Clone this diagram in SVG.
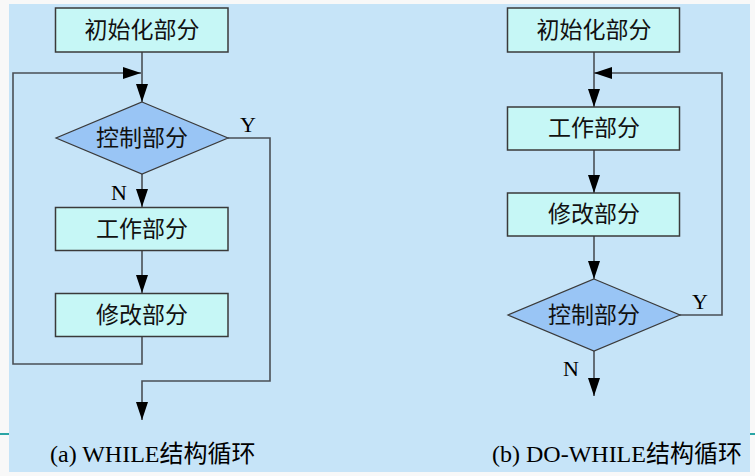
<svg xmlns="http://www.w3.org/2000/svg" width="755" height="476" viewBox="0 0 755 476">
<defs>
<marker id="ah" markerUnits="userSpaceOnUse" markerWidth="20" markerHeight="14" refX="18" refY="6" orient="auto">
<path d="M0,0 L18,6 L0,12 Z" fill="#000"/>
</marker>
<style>
.box{fill:#c6f7f6;stroke:#3a3a3a;stroke-width:1.5}
.dia{fill:#99c5f5;stroke:#3a3a3a;stroke-width:1.2}
.ln{fill:none;stroke:#4a4f55;stroke-width:1.6}
.t{font-family:"Liberation Serif","Noto Sans CJK SC",serif;font-size:23px;fill:#111;text-anchor:middle}
.lb{font-family:"Liberation Serif","Noto Sans CJK SC",serif;font-size:22px;fill:#000;text-anchor:middle}
.cap{font-family:"Liberation Serif","Noto Sans CJK SC",serif;font-size:24px;fill:#000}
</style>
</defs>
<rect x="0" y="0" width="755" height="476" fill="#f8f8f8"/>
<rect x="9" y="4" width="741" height="468" fill="#c6e4f8"/>
<line x1="0" y1="434" x2="9" y2="434" stroke="#2aa5a5" stroke-width="2"/>
<line x1="750" y1="434" x2="755" y2="434" stroke="#2aa5a5" stroke-width="2"/>

<g id="connectors">
<path class="ln" d="M142,52 V102" marker-end="url(#ah)"/>
<path class="ln" d="M142,337 V364 H13 V73 H141" marker-end="url(#ah)"/>
<path class="ln" d="M142,174 V207" marker-end="url(#ah)"/>
<path class="ln" d="M142,251 V293" marker-end="url(#ah)"/>
<path class="ln" d="M228,138 H270 V381 H142 V420" marker-end="url(#ah)"/>
<path class="ln" d="M594,52 V107" marker-end="url(#ah)"/>
<path class="ln" d="M594,150 V193" marker-end="url(#ah)"/>
<path class="ln" d="M594,236 V279" marker-end="url(#ah)"/>
<path class="ln" d="M679,315 H722 V73 H594" marker-end="url(#ah)"/>
<path class="ln" d="M594,351 V396" marker-end="url(#ah)"/>
</g>

<g id="a-init"><rect class="box" x="55.5" y="8" width="172.5" height="44"/><text class="t" x="142" y="38">初始化部分</text></g>
<g id="a-ctrl"><polygon class="dia" points="142,102 228,138 142,174 56,138"/><text class="t" x="142" y="146">控制部分</text></g>
<g id="a-work"><rect class="box" x="55.5" y="207.5" width="172.5" height="43"/><text class="t" x="142" y="237">工作部分</text></g>
<g id="a-mod"><rect class="box" x="55.5" y="293.5" width="172.5" height="43"/><text class="t" x="142" y="323">修改部分</text></g>
<text class="lb" x="248" y="132">Y</text>
<text class="lb" x="119" y="200">N</text>
<text class="cap" x="50" y="462">(a) WHILE结构循环</text>

<g id="b-init"><rect class="box" x="507.5" y="8" width="172" height="44"/><text class="t" x="594" y="38">初始化部分</text></g>
<g id="b-work"><rect class="box" x="507.5" y="107" width="172" height="43"/><text class="t" x="594" y="136">工作部分</text></g>
<g id="b-mod"><rect class="box" x="507.5" y="193" width="172" height="43"/><text class="t" x="594" y="222">修改部分</text></g>
<g id="b-ctrl"><polygon class="dia" points="594,279 680,315 594,351 508,315"/><text class="t" x="594" y="323">控制部分</text></g>
<text class="lb" x="700" y="309">Y</text>
<text class="lb" x="571" y="376">N</text>
<text class="cap" x="492" y="462">(b) DO-WHILE结构循环</text>
</svg>
